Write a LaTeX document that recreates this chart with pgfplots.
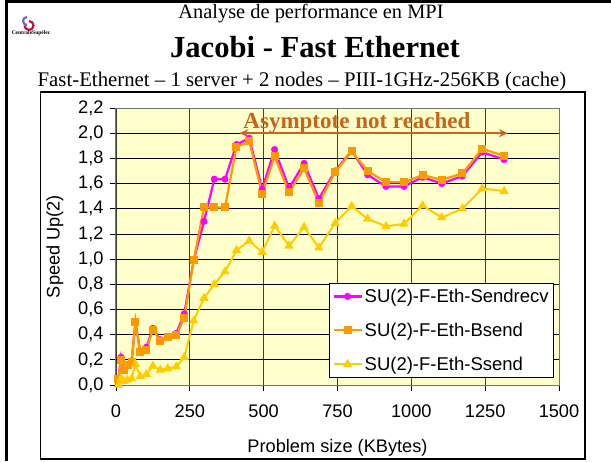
\documentclass[border=0pt]{standalone}
\usepackage{pgfplots}
\pgfplotsset{compat=1.18}
\usepackage{pgfplotstable}
\usetikzlibrary{arrows.meta}
\usepackage{fontspec}
\setmainfont{Liberation Sans}
\newfontfamily\tnr{Liberation Serif}
\definecolor{bgyellow}{HTML}{FFFFCC}
\definecolor{cmag}{HTML}{FF00FF}
\definecolor{corange}{HTML}{FF9900}
\definecolor{cyellow}{HTML}{FFCC00}
\definecolor{carrow}{HTML}{C8651B}
\definecolor{logopurple}{HTML}{7B6BB0}
\definecolor{logored}{HTML}{C0143C}

\pgfplotstableread{
x y
8 0.05
17 0.22
27 0.12
39 0.16
53 0.19
66 0.50
82 0.26
103 0.30
125 0.45
150 0.36
175 0.38
204 0.41
231 0.565
263 0.99
298 1.30
333 1.635
369 1.635
408 1.91
451 1.96
495 1.555
537 1.87
586 1.565
637 1.76
687 1.48
742 1.70
798 1.86
852 1.67
914 1.577
975 1.577
1038 1.65
1103 1.60
1173 1.66
1240 1.85
1314 1.79
}\sendrecv

\pgfplotstableread{
x y
8 0.05
17 0.20
27 0.12
39 0.16
53 0.185
66 0.50
82 0.26
103 0.28
125 0.44
150 0.35
175 0.38
204 0.40
231 0.53
263 0.99
298 1.41
333 1.41
369 1.41
408 1.89
451 1.935
495 1.52
537 1.815
586 1.53
637 1.72
687 1.445
742 1.69
798 1.855
852 1.70
914 1.61
975 1.61
1038 1.667
1103 1.63
1173 1.68
1240 1.876
1314 1.82
}\bsend

\pgfplotstableread{
x y
8 0.00
17 0.05
27 0.03
39 0.04
53 0.05
66 0.165
82 0.07
103 0.085
125 0.15
150 0.12
175 0.13
204 0.145
231 0.22
263 0.51
298 0.69
333 0.80
369 0.90
408 1.07
451 1.145
495 1.055
537 1.264
586 1.105
637 1.254
687 1.09
742 1.285
798 1.42
852 1.32
914 1.26
975 1.28
1038 1.425
1103 1.33
1173 1.40
1240 1.56
1314 1.54
}\ssend

\begin{document}
\begin{tikzpicture}[x=1pt,y=1pt]
\useasboundingbox (0,0) rectangle (611,461);
\fill[white] (0,0) rectangle (611,461);
% slide frame
\draw[line width=2.5pt] (6.5,0) -- (6.5,459.5) -- (611,459.5);
% logo
\draw[logopurple, line width=2.2pt] (27,444) arc (90:270:4);
\draw[logored, line width=2.2pt] (29,440) arc (90:-180:4.5);
\node[font=\tnr\bfseries\fontsize{5.5}{6}\selectfont, inner sep=0pt] at (31,428) {CentraleSupélec};
% titles
\node[font=\tnr\fontsize{20.4}{24}\selectfont, anchor=base, inner sep=0pt] at (311,442) {Analyse de performance en MPI};
\node[font=\tnr\bfseries\fontsize{30.6}{36}\selectfont, anchor=base, inner sep=0pt] at (315,403) {Jacobi - Fast Ethernet};
\node[font=\tnr\fontsize{20.8}{24}\selectfont, anchor=base, inner sep=0pt] at (302,374) {Fast-Ethernet – 1 server + 2 nodes – PIII-1GHz-256KB (cache)};
% chart box
\draw[fill=white, line width=1.2pt] (40.5,2) rectangle (585,369);
\begin{axis}[
  at={(116pt,76pt)}, anchor=south west,
  scale only axis, width=443pt, height=277pt,
  xmin=0, xmax=1500, ymin=0, ymax=2.2,
  xtick={0,250,500,750,1000,1250,1500},
  ytick={0,0.2,0.4,0.6,0.8,1.0,1.2,1.4,1.6,1.8,2.0,2.2},
  axis background/.style={fill=bgyellow},
  xmajorgrids, ymajorgrids,
  x grid style={black!75, line width=0.9pt},
  y grid style={black, line width=0.8pt},
  axis line style={black!55, line width=1pt},
  tick style={black, line width=0.8pt},
  tick align=outside, major tick length=6pt,
  xtick pos=left, ytick pos=left,
  ticklabel style={font=\fontsize{18.2}{20}\selectfont},
  xticklabel style={yshift=-10pt},
  yticklabel style={xshift=-3pt},
  /pgf/number format/assume math mode=true,
  yticklabel={\pgfmathprintnumber[fixed,fixed zerofill,precision=1,use comma]{\tick}},
  xticklabel={\pgfmathprintnumber[fixed,precision=0,1000 sep={}]{\tick}},
  xlabel={Problem size (KBytes)},
  ylabel={Speed Up(2)},
  label style={font=\fontsize{18.2}{20}\selectfont},
  xlabel style={at={(axis description cs:0.5,-0.227)}, anchor=center},
  ylabel style={at={(axis description cs:-0.1377,0.5)}, anchor=center},
  legend style={at={(0.481,0.025)}, anchor=south west, draw=black, fill=white,
    font=\fontsize{18.5}{20}\selectfont, row sep=15pt, inner xsep=3pt, inner ysep=4pt,
    line width=0.8pt, cells={anchor=west}},
  legend image code/.code={\draw[#1] (0pt,0pt) -- (28pt,0pt);
     \draw[#1] plot coordinates {(14pt,0pt)};},
  clip=false,
]
\addplot[cmag, line width=2.2pt, mark=*, mark size=2.4pt, mark options={solid, fill=cmag}] table[x=x,y=y]{\sendrecv};
\addlegendentry{SU(2)-F-Eth-Sendrecv}
\addplot[corange, line width=2.2pt, mark=square*, mark size=2.9pt, mark options={solid, fill=corange}] table[x=x,y=y]{\bsend};
\addlegendentry{SU(2)-F-Eth-Bsend}
\addplot[cyellow, line width=2pt, mark=triangle*, mark size=3.4pt, mark options={solid, fill=cyellow}] table[x=x,y=y]{\ssend};
\addlegendentry{SU(2)-F-Eth-Ssend}
\draw[carrow, line width=2.6pt, -{Stealth[length=9pt,width=8pt]}] (axis cs:700,2.0) -- (axis cs:1327,2.0);
\draw[carrow, line width=2.6pt, -{Stealth[length=9pt,width=8pt]}] (axis cs:700,2.0) -- (axis cs:418,2.0);
\node[carrow, font=\tnr\bfseries\fontsize{23}{26}\selectfont, anchor=base] at (axis cs:816,2.04) {Asymptote not reached};
\end{axis}
\end{tikzpicture}
\end{document}
